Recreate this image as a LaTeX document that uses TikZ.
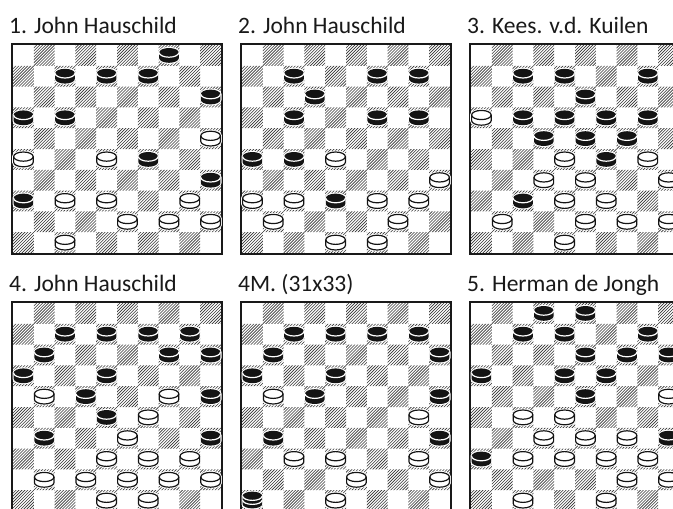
\documentclass[tikz,border=0pt]{standalone}
\usepackage{fontspec}
\setmainfont{Carlito}
\def\sqz{20.8}
\newcommand\pcpath{(-9.8,-2.8) -- (-9.8,2.8) arc[start angle=180,end angle=0,x radius=9.8,y radius=4.6] -- (9.8,-2.8) arc[start angle=0,end angle=-180,x radius=9.8,y radius=4.6] -- cycle}
\newcommand\kgpath{(-9.8,-4.6) -- (-9.8,3.4) arc[start angle=180,end angle=0,x radius=9.8,y radius=4.4] -- (9.8,-4.6) arc[start angle=0,end angle=-180,x radius=9.8,y radius=4.4] -- cycle}
\tikzset{
  hatchline/.style={line width=0.6pt,black!80},
  frame/.style={line width=2pt,black!90},
  title/.style={font=\fontsize{23.5}{28}\selectfont,inner sep=0pt,anchor=base west,text=black!90},
  blackpc/.pic={
    \draw[white,line width=2.2pt] \pcpath;
    \fill[black!92] \pcpath;
    \draw[white,line width=1.2pt] (-9.8,-2.8) arc[start angle=180,end angle=0,x radius=9.8,y radius=4.6];
  },
  whitepc/.pic={
    \draw[white,line width=3pt] \pcpath;
    \filldraw[fill=white,draw=black!92,line width=1.2pt] \pcpath;
    \draw[black!92,line width=1.2pt] (-9.8,-2.8) arc[start angle=180,end angle=0,x radius=9.8,y radius=4.6];
  },
  blackkg/.pic={
    \draw[white,line width=2.2pt] \kgpath;
    \fill[black!92] \kgpath;
    \draw[white,line width=1.2pt] (-9.8,-4.6) arc[start angle=180,end angle=0,x radius=9.8,y radius=4.4];
    \draw[white,line width=1.2pt] (-9.8,-0.6) arc[start angle=180,end angle=0,x radius=9.8,y radius=4.4];
  }
}
\newcommand\dboard[4]{%
  \begin{scope}[shift={(#1,#2)}]
    \begin{scope}
      \clip \foreach \jj in {0,...,4}{\foreach \kk in {0,...,4}{
        ({(2*\kk+1)*\sqz},{2*\jj*\sqz}) rectangle ++(\sqz,\sqz)
        ({2*\kk*\sqz},{(2*\jj+1)*\sqz}) rectangle ++(\sqz,\sqz)}};
      \draw[hatchline] \foreach \ii in {0,...,141}{({-210+\ii*\sqz/7},210) -- ++(212,-212)};
    \end{scope}
    \draw[frame] (-1,-1) rectangle ({10*\sqz+1},{10*\sqz+1});
    \foreach \rr/\cc in {#3}{\pic at ({(\cc+0.5)*\sqz},{(\rr+0.5)*\sqz}) {blackpc};}
    \foreach \rr/\cc in {#4}{\pic at ({(\cc+0.5)*\sqz},{(\rr+0.5)*\sqz}) {whitepc};}
  \end{scope}}
\begin{document}
\begin{tikzpicture}[x=1pt,y=-1pt]
\useasboundingbox (0,0) rectangle (673,509);
\fill[white] (0,0) rectangle (673,509);
\clip (0,0) rectangle (673,509);
% titles
\node[title] (t1) at (9,33) {1. John Hauschild};
\node[title] (t2) at (238,33) {2. John Hauschild};
\node[title] (t3) at (467,33) {3. Kees. v.d. Kuilen};
\node[title] (t4) at (9,291) {4. John Hauschild};
\node[title] (t5) at (238,291) {4M. (31x33)};
\node[title] (t6) at (467,291) {5. Herman de Jongh};
% board 1
\dboard{13}{45}{0/7,1/2,1/4,1/6,2/9,3/0,3/2,5/6,6/9,7/0}{4/9,5/0,5/4,7/2,7/4,7/8,8/5,8/7,8/9,9/2}
% board 2
\dboard{242}{45}{1/2,1/6,1/8,2/3,3/2,3/6,3/8,5/0,5/2,7/4}{5/4,6/9,7/0,7/2,7/6,7/8,8/1,8/7,9/4,9/6}
% board 3
\dboard{471}{45}{1/2,1/4,1/8,2/5,3/2,3/4,3/6,3/8,4/3,4/5,4/7,5/6,7/2}{3/0,5/4,5/8,6/3,6/5,6/9,7/4,7/6,8/1,8/5,8/7,8/9,9/4}
% board 4
\dboard{13}{303}{1/2,1/4,1/6,1/8,2/1,2/7,2/9,3/0,3/4,4/3,4/9,5/4,6/1,6/9}{4/1,4/7,5/6,6/5,7/4,7/6,7/8,8/1,8/3,8/5,8/7,8/9,9/4,9/6}
% board 5 (4M)
\dboard{242}{303}{1/2,1/4,1/6,1/8,2/1,2/9,3/0,3/4,4/3,4/9,6/1,6/9}{4/1,5/8,7/2,7/4,7/8,8/5,8/9,9/4}
\pic at ({242+0.5*\sqz},{303+9.5*\sqz}) {blackkg};
% board 6
\dboard{471}{303}{0/3,0/5,1/2,1/4,1/8,2/5,2/7,2/9,3/0,3/4,3/6,4/5,6/9,7/0}{4/9,5/2,5/4,6/3,6/5,6/7,7/2,7/4,7/6,7/8,8/7,8/9,9/2,9/6}
\end{tikzpicture}
\end{document}
